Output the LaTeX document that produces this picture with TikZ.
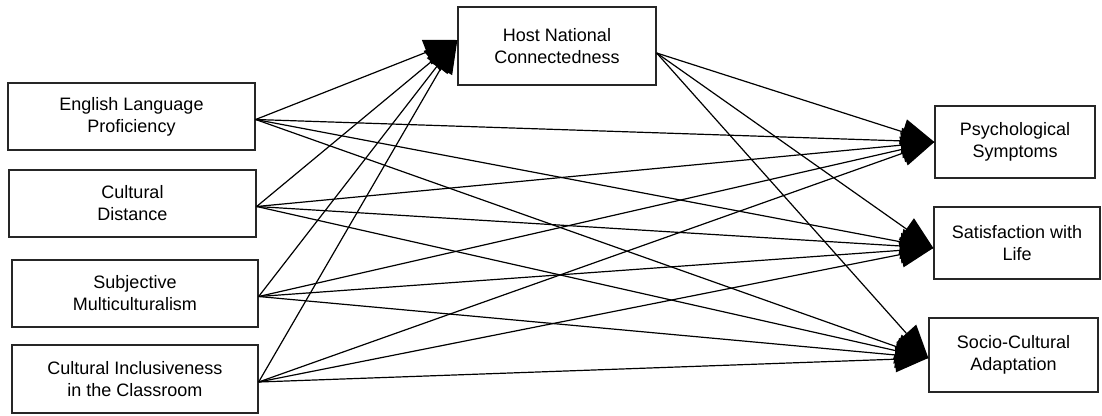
\documentclass[tikz,border=0pt]{standalone}
\usepackage{fontspec}
\setmainfont{Liberation Sans}
\usetikzlibrary{arrows.meta}
\begin{document}
\begin{tikzpicture}[x=1pt,y=-1pt,
  box/.style={draw=black!85, line width=1.3pt, align=center, inner sep=0pt,
    font=\fontsize{18}{22}\selectfont},
  path/.style={line width=1.2pt, -{Triangle[length=33pt,width=26pt]}}]
\useasboundingbox (0,0) rectangle (1102,415);
\node[box, minimum width=247, minimum height=67] (elp) at (131.5,116.5) {English Language\\Proficiency};
\node[box, minimum width=247, minimum height=67] (cd) at (132.5,203.5) {Cultural\\Distance};
\node[box, minimum width=246, minimum height=67] (sm) at (135,293.5) {Subjective\\Multiculturalism};
\node[box, minimum width=246, minimum height=68] (ci) at (135,379) {Cultural Inclusiveness\\in the Classroom};
\node[box, minimum width=198, minimum height=78] (hnc) at (557,46) {Host National\\Connectedness};
\node[box, minimum width=160, minimum height=72] (ps) at (1015,142) {Psychological\\Symptoms};
\node[box, minimum width=166, minimum height=72] (sl) at (1017,243) {Satisfaction with\\Life};
\node[box, minimum width=169, minimum height=74] (sca) at (1013.5,355) {Socio-Cultural\\Adaptation};
% target points of the arrows
\coordinate (hncin) at ([yshift=6]hnc.west);
\coordinate (psin) at (ps.west);
\coordinate (slin) at ([yshift=-5]sl.west);
\coordinate (scain) at ([yshift=-3]sca.west);
% paths from the predictors
\foreach \s in {elp,cd,sm,ci}{
  \foreach \t in {hncin,psin,slin,scain}
    \draw[path] ([yshift=-3]\s.east) -- (\t);
}
% paths from the mediator
\foreach \t in {psin,slin,scain}
  \draw[path] ([yshift=-7]hnc.east) -- (\t);
\end{tikzpicture}
\end{document}
